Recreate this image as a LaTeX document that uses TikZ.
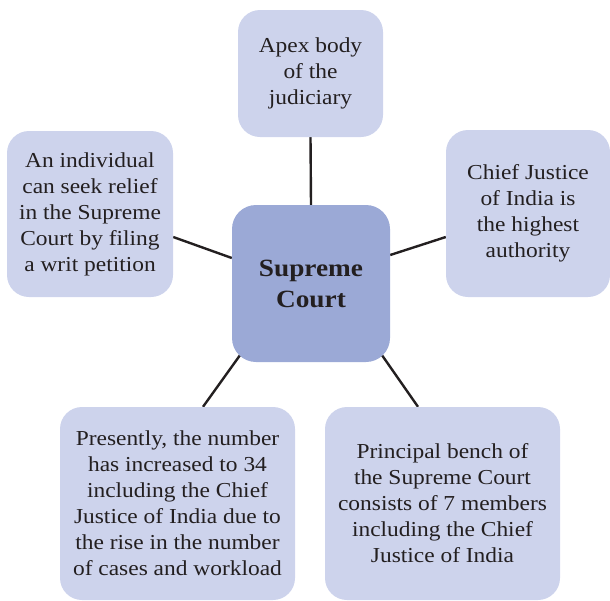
\documentclass[tikz,border=0pt]{standalone}
\usepackage{fontspec}
\setmainfont{Liberation Serif}[FakeStretch=1.1]
\usetikzlibrary{backgrounds}
\definecolor{boxfill}{HTML}{CDD3EC}
\definecolor{hubfill}{HTML}{9BA9D6}
\definecolor{inkdark}{HTML}{231F20}
\tikzset{
  infobox/.style={rectangle, rounded corners=22pt, fill=boxfill, draw=none,
    align=center, inner sep=0pt, text=inkdark,
    font=\fontsize{21.3pt}{26pt}\selectfont},
  hubbox/.style={rectangle, rounded corners=24pt, fill=hubfill, draw=none,
    align=center, inner sep=0pt, text=inkdark,
    font=\fontsize{24.8pt}{31pt}\selectfont\bfseries},
  link/.style={draw=inkdark, line width=2.4pt}
}
\begin{document}
\begin{tikzpicture}[x=1pt, y=-1pt]
\useasboundingbox (0,0) rectangle (610,600);

\node[hubbox, minimum width=158pt, minimum height=157pt] (hub) at (311,283.5)
  {Supreme\\Court};

\node[infobox, minimum width=145pt, minimum height=127pt] (apex) at (310.5,73.5)
  {Apex body\\of the\\judiciary};

\node[infobox, minimum width=166pt, minimum height=166pt] (writ) at (90,214)
  {An individual\\can seek relief\\in the Supreme\\Court by filing\\a writ petition};

\node[infobox, minimum width=164pt, minimum height=167pt] (chief) at (528,213.5)
  {Chief Justice\\of India is\\the highest\\authority};

\node[infobox, minimum width=235pt, minimum height=193pt] (count) at (177.5,503.5)
  {Presently, the number\\has increased to 34\\including the Chief\\Justice of India due to\\the rise in the number\\of cases and workload};

\node[infobox, minimum width=235pt, minimum height=193pt] (bench) at (442.5,503.5)
  {Principal bench of\\the Supreme Court\\consists of 7 members\\including the Chief\\Justice of India};

\begin{scope}[on background layer]
  \draw[link] (apex.south) -- (hub.north);
  \draw[link] ([yshift=-23pt]writ.east) -- ([yshift=25.5pt]hub.west);
  \draw[link] ([yshift=28.5pt]hub.east) -- ([yshift=-23.5pt]chief.west);
  \draw[link] ([xshift=-71pt,yshift=7pt]hub.south) -- ([xshift=25.5pt]count.north);
  \draw[link] ([xshift=71pt,yshift=7pt]hub.south) -- ([xshift=-24.5pt]bench.north);
\end{scope}
\end{tikzpicture}
\end{document}
